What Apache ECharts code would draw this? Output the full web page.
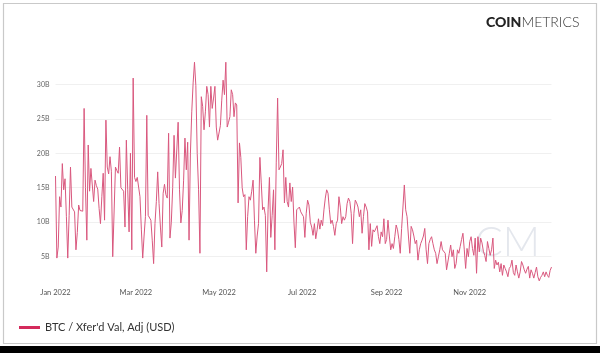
<!DOCTYPE html>
<html>
<head>
<meta charset="utf-8">
<script src="https://cdn.jsdelivr.net/npm/echarts@6/dist/echarts.min.js"></script>
<style>
html,body{margin:0;padding:0;background:#fff;}
#c{width:600px;height:353px;}
</style>
</head>
<body>
<div id="c"></div>
<script>
// BTC / Xfer'd Val, Adj (USD), daily, in billions USD, year 2022
const jan = [16.7, 4.8, 6.4, 13.7, 12.2, 18.5, 14.7, 16.3, 10.8, 4.8, 11.0, 18.0, 12.2, 12.2, 11.5, 6.0, 8.5, 12.5, 11.7, 11.5, 11.6, 26.5, 15.0, 7.4, 21.2, 14.5, 17.8, 17.8, 13.0, 16.1, 15.3];
const feb = [14.8, 12.0, 9.8, 13.7, 17.1, 10.3, 24.8, 18.0, 17.0, 19.5, 17.4, 5.0, 4.8, 18.0, 17.5, 17.1, 20.9, 15.0, 14.8, 14.5, 9.3, 21.9, 14.7, 8.6, 20.0, 6.0, 30.9, 16.5];
const mar = [15.9, 16.5, 16.3, 13.7, 9.0, 4.8, 8.0, 10.8, 25.5, 11.0, 10.8, 10.3, 7.4, 4.0, 9.8, 13.0, 17.3, 12.7, 9.3, 6.4, 14.2, 15.5, 14.0, 13.5, 22.9, 7.7, 10.0, 15.0, 22.6, 16.4, 16.2];
const apr = [24.5, 14.7, 9.9, 11.7, 16.0, 22.2, 17.6, 21.6, 7.4, 19.9, 26.0, 30.2, 33.2, 29.8, 20.0, 14.7, 5.5, 28.2, 26.8, 23.4, 26.0, 29.7, 28.5, 23.8, 29.7, 26.5, 28.0, 29.7, 23.8, 21.9];
const may = [21.7, 24.0, 27.7, 30.6, 28.5, 33.2, 23.8, 24.5, 25.3, 29.2, 28.5, 25.3, 27.3, 27.0, 12.8, 21.5, 19.4, 15.0, 13.7, 14.0, 6.0, 10.8, 13.7, 13.2, 14.5, 16.1, 10.3, 5.5, 8.0, 9.8, 19.4];
const jun = [15.7, 11.8, 12.2, 11.0, 2.8, 11.8, 16.5, 7.8, 11.0, 14.7, 6.0, 18.6, 28.0, 17.6, 18.0, 18.5, 20.5, 12.8, 16.5, 13.0, 12.2, 15.7, 13.0, 15.1, 10.0, 6.3, 11.8, 12.0, 12.2, 11.5];
const jul = [11.5, 10.8, 7.8, 11.3, 13.2, 12.5, 10.0, 9.3, 8.1, 9.8, 7.6, 8.9, 10.5, 9.0, 10.3, 9.5, 11.8, 13.5, 14.7, 14.2, 11.8, 9.8, 10.3, 9.4, 8.1, 9.8, 10.3, 13.7, 12.2, 9.8, 10.8];
const aug = [10.3, 10.8, 12.7, 13.5, 13.0, 11.3, 6.9, 11.3, 13.2, 12.8, 12.2, 10.8, 11.8, 8.4, 10.8, 12.7, 12.2, 11.5, 6.0, 9.8, 6.5, 8.9, 8.6, 8.4, 9.5, 7.9, 6.9, 8.6, 7.9, 10.5, 6.9];
const sep = [7.5, 10.3, 8.0, 6.0, 6.9, 6.2, 7.9, 9.6, 8.9, 7.5, 5.5, 9.1, 8.9, 15.4, 11.8, 10.8, 8.0, 5.5, 9.4, 8.9, 8.0, 6.9, 7.4, 4.5, 6.0, 6.9, 7.4, 8.0, 9.1, 6.0];
const oct = [4.0, 6.9, 7.5, 7.9, 6.9, 6.0, 5.5, 4.0, 5.0, 6.0, 7.2, 6.0, 6.2, 5.5, 3.1, 2.9, 5.5, 6.7, 5.0, 6.0, 3.3, 4.0, 6.0, 5.5, 6.5, 7.5, 8.4, 6.0, 3.3, 6.2, 5.0];
const nov = [7.2, 7.9, 6.2, 5.2, 7.7, 2.6, 7.9, 5.7, 7.7, 7.0, 5.8, 5.2, 4.3, 7.2, 6.2, 5.2, 6.0, 7.7, 3.3, 4.5, 3.8, 4.2, 2.8, 4.0, 2.3, 3.8, 3.3, 2.8, 2.1, 3.3];
const dec = [3.6, 4.5, 2.7, 2.3, 3.8, 2.8, 1.9, 2.8, 4.3, 3.8, 3.1, 2.6, 3.2, 3.6, 1.9, 3.1, 2.6, 1.9, 2.7, 3.5, 2.1, 1.5, 2.0, 2.3, 2.8, 2.1, 2.8, 2.3, 2.0, 3.0, 3.5];

const seriesName = "BTC / Xfer'd Val, Adj (USD)";
const monthNames = ['Jan','Feb','Mar','Apr','May','Jun','Jul','Aug','Sep','Oct','Nov','Dec'];
const labelMonths = [0, 2, 4, 6, 8, 10];
const yTicks = [5, 10, 15, 20, 25, 30];

const values = [].concat(jan, feb, mar, apr, may, jun, jul, aug, sep, oct, nov, dec);
const dates = [];
for (let i = 0; i < values.length; i++) {
  const d = new Date(Date.UTC(2022, 0, 1 + i));
  dates.push(d.getUTCFullYear() + '-' + String(d.getUTCMonth() + 1).padStart(2, '0') + '-' + String(d.getUTCDate()).padStart(2, '0'));
}

const chart = echarts.init(document.getElementById('c'), null, {renderer: 'canvas'});
chart.setOption({
  animation: false,
  backgroundColor: '#fff',
  textStyle: {fontFamily: 'Lato'},
  graphic: [
    {type: 'rect', shape: {x: 3.5, y: 3.5, width: 593, height: 340}, style: {fill: 'none', stroke: '#c9c9c9', lineWidth: 1.2}, z: -10},
    {type: 'rect', shape: {x: 0, y: 346, width: 600, height: 7}, style: {fill: '#000'}, z: -10},
    {type: 'text', left: 475, top: 222, style: {text: 'CM', fontSize: 41, fontFamily: 'Lato', fontWeight: 300, fill: '#e4e7ed'}, z: -5},
    {type: 'text', left: 486, top: 15, style: {
      text: '{a|COIN}{b|METRICS}',
      rich: {
        a: {fontSize: 14, fontFamily: 'Lato', fontWeight: 900, fill: '#222'},
        b: {fontSize: 14, fontFamily: 'Lato', fontWeight: 300, fill: '#333'}
      }
    }}
  ],
  legend: {
    left: 14, top: 317,
    icon: 'rect', itemWidth: 21, itemHeight: 3, itemGap: 5,
    textStyle: {fontSize: 11, color: '#333', fontFamily: 'Lato'},
    data: [seriesName]
  },
  grid: {left: 55.5, right: 48.5, top: 49.8, bottom: 61.8},
  xAxis: {
    type: 'category',
    data: dates,
    boundaryGap: false,
    axisLine: {show: false},
    axisTick: {show: false},
    splitLine: {show: false},
    axisLabel: {
      margin: -3,
      fontSize: 7.5,
      color: '#555',
      fontFamily: 'Lato',
      interval: function (idx, val) {
        const m = parseInt(val.slice(5, 7), 10) - 1;
        return val.slice(8) === '01' && labelMonths.indexOf(m) >= 0;
      },
      formatter: function (val) {
        const m = parseInt(val.slice(5, 7), 10) - 1;
        return monthNames[m] + ' ' + val.slice(0, 4);
      }
    }
  },
  yAxis: {
    type: 'value',
    min: 0, max: 35, interval: 5,
    axisLine: {show: false},
    axisTick: {show: false},
    axisLabel: {
      fontSize: 7, color: '#666', margin: 6, fontFamily: 'Lato',
      formatter: function (v) { return yTicks.indexOf(v) >= 0 ? v + 'B' : ''; }
    },
    splitLine: {showMinLine: false, showMaxLine: false, lineStyle: {color: '#f0f0f0', width: 1}}
  },
  series: [{
    name: seriesName,
    type: 'line',
    data: values,
    showSymbol: false,
    symbol: 'none',
    color: '#d42a5c',
    lineStyle: {width: 1, color: '#d9587e'},
    z: 3
  }]
});
</script>
</body>
</html>
